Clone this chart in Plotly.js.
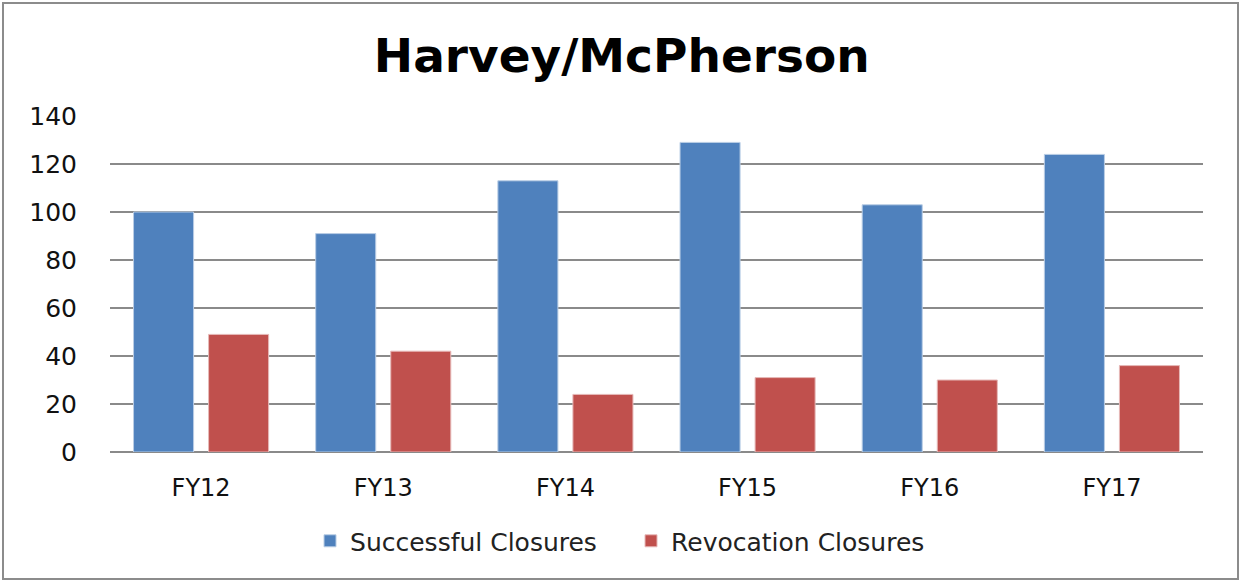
<!DOCTYPE html>
<html>
<head>
<meta charset="utf-8">
<script src="https://cdn.plot.ly/plotly-3.0.1.min.js"></script>
<style>
  html, body { margin: 0; padding: 0; background: #ffffff; }
  #wrap { position: relative; width: 1241px; height: 582px; }
  #chart { width: 1241px; height: 582px; }
  #frame { position: absolute; left: 2px; top: 2px; width: 1233px; height: 574px;
           border: 2px solid #8c8c8c; pointer-events: none; }
</style>
</head>
<body>
<div id="wrap">
  <div id="chart"></div>
  <div id="frame"></div>
</div>
<script>
const categories = ["FY12", "FY13", "FY14", "FY15", "FY16", "FY17"];
const successfulClosures = [100, 91, 113, 129, 103, 124];
const revocationClosures = [49, 42, 24, 31, 30, 36];
const seriesNames = ["Successful Closures", "Revocation Closures"];
const yTicks = [0, 20, 40, 60, 80, 100, 120, 140];

const FONT = "'DejaVu Sans', 'Open Sans', sans-serif";

const traces = [
  {
    type: "bar", name: seriesNames[0], x: categories, y: successfulClosures,
    marker: { color: "#4F81BD", line: { color: "#b9cde5", width: 1 } },
    hoverinfo: "x+y+name"
  },
  {
    type: "bar", name: seriesNames[1], x: categories, y: revocationClosures,
    marker: { color: "#C0504D", line: { color: "#e6b9b8", width: 1 } },
    hoverinfo: "x+y+name"
  }
];

const layout = {
  width: 1241, height: 582,
  margin: { l: 110, r: 38, t: 116, b: 130 },
  paper_bgcolor: "#ffffff", plot_bgcolor: "#ffffff",
  font: { family: FONT, color: "#000000", size: 22 },
  title: {
    text: "<b>Harvey/McPherson</b>",
    font: { family: FONT, size: 47, color: "#000000" },
    x: 0.501, xref: "container", xanchor: "center",
    y: 0.905, yref: "container", yanchor: "middle"
  },
  barmode: "group",
  bargap: 0.176,
  bargroupgap: 0.2,
  showlegend: true,
  legend: {
    orientation: "h", x: 0.183, xanchor: "left", y: -0.265, yanchor: "middle",
    font: { family: FONT, size: 25, color: "#222222" },
    entrywidth: 276, entrywidthmode: "pixels",
    itemwidth: 30, traceorder: "normal"
  },
  xaxis: {
    type: "category", showgrid: false, zeroline: false, showline: false,
    ticks: "", ticklabelstandoff: 19,
    tickfont: { family: FONT, size: 24, color: "#111111" }
  },
  yaxis: {
    range: [0, 140], tickvals: yTicks, ticktext: yTicks.map(String),
    showgrid: true, gridcolor: "#8a8a8a", gridwidth: 2,
    zeroline: true, zerolinecolor: "#8a8a8a", zerolinewidth: 2,
    showline: false, ticks: "", ticklabelstandoff: 32,
    tickfont: { family: FONT, size: 25, color: "#111111" }
  }
};

Plotly.newPlot("chart", traces, layout, { displayModeBar: false, staticPlot: true });
</script>
</body>
</html>
